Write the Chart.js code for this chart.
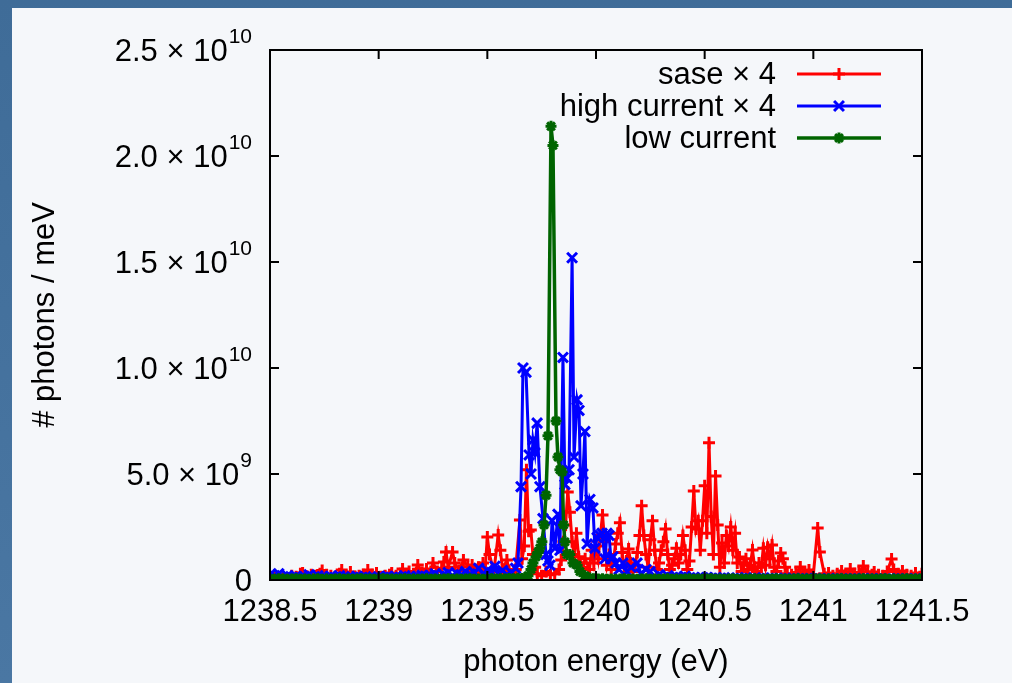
<!DOCTYPE html>
<html>
<head>
<meta charset="utf-8">
<script src="https://cdn.jsdelivr.net/npm/chart.js@4.4.0/dist/chart.umd.min.js"></script>
<style>
html, body { margin: 0; padding: 0; }
body { width: 1012px; height: 683px; position: relative; overflow: hidden; background: linear-gradient(180deg, #3f6c98, #4a77a3); }
#panel { position: absolute; left: 12px; top: 8px; right: 0; bottom: 0; background: #f5f7fa; }
#wrap { position: absolute; left: 0; top: 0; width: 1012px; height: 683px; }
</style>
</head>
<body>
<div id="panel"></div>
<div id="wrap"><canvas id="spectrum" width="1012" height="683"></canvas></div>
<script>
// values in units of 1e9 photons / meV
const sase = [
  [1238.50,0.10],[1238.52,0.12],[1238.54,0.08],[1238.56,0.15],[1238.58,0.10],[1238.60,0.20],[1238.62,0.15],[1238.64,0.30],
  [1238.65,0.33],[1238.67,0.18],[1238.69,0.25],[1238.71,0.20],[1238.73,0.30],[1238.74,0.45],[1238.76,0.25],[1238.78,0.20],
  [1238.80,0.15],[1238.82,0.30],[1238.83,0.47],[1238.85,0.20],[1238.87,0.38],[1238.89,0.15],[1238.91,0.20],[1238.93,0.25],
  [1238.95,0.47],[1238.97,0.25],[1238.99,0.33],[1239.01,0.15],[1239.03,0.20],[1239.05,0.25],[1239.06,0.33],[1239.08,0.20],
  [1239.10,0.30],[1239.11,0.52],[1239.12,0.25],[1239.14,0.40],[1239.16,0.30],[1239.18,0.71],[1239.20,0.35],[1239.22,0.52],
  [1239.24,0.40],[1239.25,0.80],[1239.27,0.40],[1239.29,0.55],[1239.30,0.85],[1239.31,1.32],[1239.32,0.60],[1239.34,1.32],
  [1239.35,0.80],[1239.37,0.45],[1239.39,0.94],[1239.41,0.61],[1239.42,0.40],[1239.43,0.71],[1239.45,0.35],[1239.46,0.60],
  [1239.48,0.80],[1239.49,0.50],[1239.50,2.03],[1239.51,1.20],[1239.53,0.40],[1239.55,2.12],[1239.56,1.40],[1239.57,0.50],
  [1239.59,0.94],[1239.60,0.45],[1239.62,0.30],[1239.63,0.50],[1239.65,2.83],[1239.66,1.00],[1239.67,1.60],[1239.68,5.20],
  [1239.69,2.30],[1239.70,2.36],[1239.71,1.20],[1239.72,0.60],[1239.73,0.30],[1239.75,0.20],[1239.77,0.40],[1239.79,0.25],
  [1239.81,0.30],[1239.83,0.50],[1239.84,0.94],[1239.85,1.80],[1239.86,2.60],[1239.87,4.15],[1239.88,3.20],[1239.89,1.80],
  [1239.90,1.20],[1239.91,2.20],[1239.92,1.10],[1239.94,0.60],[1239.95,1.00],[1239.97,0.50],[1239.98,1.40],[1239.99,0.80],
  [1240.00,1.60],[1240.01,1.00],[1240.02,2.10],[1240.03,3.07],[1240.04,1.80],[1240.05,0.70],[1240.06,1.20],[1240.07,0.50],
  [1240.08,0.90],[1240.09,1.70],[1240.10,2.20],[1240.11,2.70],[1240.12,1.30],[1240.13,0.60],[1240.14,0.90],[1240.15,1.46],
  [1240.16,0.80],[1240.17,0.40],[1240.18,0.70],[1240.19,1.30],[1240.20,2.10],[1240.21,3.50],[1240.22,2.10],[1240.23,1.20],
  [1240.24,0.60],[1240.25,1.90],[1240.26,2.80],[1240.27,1.40],[1240.28,0.50],[1240.29,0.80],[1240.30,1.40],[1240.31,1.80],
  [1240.32,2.40],[1240.33,1.20],[1240.34,0.50],[1240.35,0.70],[1240.36,1.00],[1240.37,1.50],[1240.38,0.80],[1240.39,1.20],
  [1240.40,2.10],[1240.41,1.40],[1240.42,0.50],[1240.43,0.90],[1240.44,2.50],[1240.45,4.20],[1240.46,2.40],[1240.47,2.80],
  [1240.48,1.40],[1240.49,2.80],[1240.50,4.44],[1240.51,2.20],[1240.52,6.47],[1240.53,3.00],[1240.54,1.20],[1240.55,4.90],
  [1240.56,2.60],[1240.57,0.60],[1240.58,1.75],[1240.59,0.80],[1240.60,2.10],[1240.61,1.60],[1240.62,2.50],[1240.63,1.40],
  [1240.64,2.20],[1240.65,0.80],[1240.66,1.09],[1240.67,0.40],[1240.68,0.80],[1240.69,1.00],[1240.70,0.50],[1240.71,0.70],
  [1240.72,1.42],[1240.73,0.60],[1240.74,0.40],[1240.75,0.80],[1240.76,0.60],[1240.77,1.50],[1240.78,0.70],[1240.79,1.55],
  [1240.80,1.00],[1240.81,1.65],[1240.82,0.60],[1240.83,0.40],[1240.84,0.90],[1240.85,1.27],[1240.86,1.00],[1240.87,0.60],
  [1240.88,0.30],[1240.90,0.25],[1240.92,0.35],[1240.94,0.61],[1240.96,0.35],[1240.98,0.47],[1241.00,0.25],[1241.02,2.45],
  [1241.03,1.32],[1241.05,0.30],[1241.07,0.33],[1241.09,0.20],[1241.11,0.30],[1241.13,0.42],[1241.15,0.25],[1241.17,0.52],
  [1241.19,0.30],[1241.21,0.35],[1241.23,0.66],[1241.25,0.38],[1241.27,0.25],[1241.28,0.38],[1241.30,0.25],[1241.32,0.20],
  [1241.34,0.40],[1241.36,0.99],[1241.37,0.50],[1241.39,0.30],[1241.41,0.42],[1241.43,0.25],[1241.45,0.20],[1241.47,0.33],
  [1241.49,0.15],[1241.50,0.30]
];

const highCurrent = [
  [1238.50,0.25],[1238.52,0.20],[1238.54,0.30],[1238.56,0.15],[1238.58,0.20],[1238.60,0.12],[1238.62,0.18],[1238.64,0.10],
  [1238.66,0.15],[1238.68,0.25],[1238.70,0.12],[1238.72,0.20],[1238.74,0.15],[1238.76,0.10],[1238.78,0.18],[1238.80,0.12],
  [1238.82,0.20],[1238.84,0.15],[1238.86,0.10],[1238.88,0.12],[1238.90,0.18],[1238.92,0.10],[1238.94,0.15],[1238.96,0.12],
  [1238.98,0.10],[1239.00,0.15],[1239.02,0.12],[1239.04,0.18],[1239.06,0.10],[1239.08,0.15],[1239.10,0.12],[1239.12,0.20],
  [1239.14,0.15],[1239.16,0.10],[1239.18,0.18],[1239.20,0.22],[1239.22,0.15],[1239.24,0.20],[1239.26,0.30],[1239.28,0.18],
  [1239.30,0.25],[1239.32,0.35],[1239.34,0.20],[1239.36,0.30],[1239.38,0.25],[1239.40,0.40],[1239.42,0.28],[1239.44,0.35],
  [1239.46,0.55],[1239.48,0.30],[1239.50,0.45],[1239.52,0.35],[1239.535,0.65],[1239.55,0.30],[1239.57,0.45],[1239.59,0.25],
  [1239.61,0.35],[1239.63,0.55],[1239.641,0.80],[1239.655,4.40],[1239.664,10.0],[1239.678,9.80],[1239.692,5.90],[1239.701,5.00],
  [1239.710,6.60],[1239.719,6.00],[1239.729,7.40],[1239.742,4.40],[1239.756,2.90],[1239.770,1.20],[1239.779,0.90],[1239.788,0.70],
  [1239.798,2.80],[1239.811,1.50],[1239.825,3.10],[1239.834,1.40],[1239.848,10.5],[1239.857,4.50],[1239.867,4.80],[1239.876,5.20],
  [1239.890,15.2],[1239.899,5.80],[1239.913,8.50],[1239.922,8.00],[1239.931,3.50],[1239.940,5.00],[1239.949,7.00],[1239.959,1.70],
  [1239.972,3.80],[1239.986,3.40],[1239.995,1.50],[1240.005,2.00],[1240.018,2.10],[1240.028,2.20],[1240.041,1.00],[1240.051,2.20],
  [1240.060,2.10],[1240.069,1.00],[1240.078,1.10],[1240.092,0.80],[1240.106,0.50],[1240.124,0.80],[1240.143,0.40],[1240.161,0.60],
  [1240.189,0.80],[1240.207,0.30],[1240.230,0.50],[1240.249,0.40],[1240.27,0.15],[1240.29,0.25],[1240.31,0.12],[1240.33,0.20],
  [1240.35,0.10],[1240.37,0.15],[1240.39,0.12],[1240.41,0.18],[1240.43,0.10],[1240.45,0.12],[1240.47,0.08],[1240.49,0.10],
  [1240.51,0.12],[1240.53,0.08],[1240.55,0.10],[1240.57,0.07],[1240.59,0.10],[1240.61,0.08],[1240.63,0.06],[1240.65,0.09],
  [1240.67,0.07],[1240.69,0.10],[1240.71,0.06],[1240.73,0.08],[1240.75,0.07],[1240.77,0.09],[1240.79,0.06],[1240.81,0.08],
  [1240.83,0.07],[1240.85,0.06],[1240.87,0.08],[1240.89,0.06],[1240.91,0.07],[1240.93,0.05],[1240.95,0.07],[1240.97,0.06],
  [1240.99,0.05],[1241.01,0.07],[1241.03,0.06],[1241.05,0.05],[1241.07,0.06],[1241.09,0.05],[1241.11,0.07],[1241.13,0.05],
  [1241.15,0.06],[1241.17,0.05],[1241.19,0.06],[1241.21,0.05],[1241.23,0.07],[1241.25,0.05],[1241.27,0.06],[1241.29,0.05],
  [1241.31,0.06],[1241.33,0.05],[1241.35,0.06],[1241.37,0.05],[1241.39,0.06],[1241.41,0.05],[1241.43,0.06],[1241.45,0.05],
  [1241.47,0.06],[1241.49,0.05]
];

const lowCurrent = [
  [1238.50,0.05],[1238.52,0.04],[1238.54,0.06],[1238.56,0.05],[1238.58,0.04],[1238.60,0.05],[1238.62,0.06],[1238.64,0.04],
  [1238.66,0.05],[1238.68,0.04],[1238.70,0.05],[1238.72,0.06],[1238.74,0.04],[1238.76,0.05],[1238.78,0.04],[1238.80,0.05],
  [1238.82,0.06],[1238.84,0.04],[1238.86,0.05],[1238.88,0.04],[1238.90,0.05],[1238.92,0.06],[1238.94,0.04],[1238.96,0.05],
  [1238.98,0.04],[1239.00,0.05],[1239.02,0.06],[1239.04,0.04],[1239.06,0.05],[1239.08,0.04],[1239.10,0.05],[1239.12,0.06],
  [1239.14,0.04],[1239.16,0.05],[1239.18,0.04],[1239.20,0.05],[1239.22,0.06],[1239.24,0.04],[1239.26,0.05],[1239.28,0.04],
  [1239.30,0.05],[1239.32,0.06],[1239.34,0.04],[1239.36,0.05],[1239.38,0.04],[1239.40,0.05],[1239.42,0.06],[1239.44,0.04],
  [1239.46,0.05],[1239.48,0.04],[1239.50,0.05],[1239.52,0.06],[1239.54,0.05],[1239.56,0.06],[1239.58,0.05],[1239.60,0.07],
  [1239.62,0.06],[1239.64,0.08],[1239.66,0.07],[1239.673,0.10],[1239.687,0.20],[1239.701,0.50],[1239.710,0.80],[1239.724,1.10],
  [1239.733,1.30],[1239.742,1.50],[1239.751,1.80],[1239.761,2.60],[1239.770,4.00],[1239.779,6.80],[1239.793,21.4],[1239.802,20.5],
  [1239.816,7.50],[1239.825,5.80],[1239.834,5.20],[1239.844,5.10],[1239.851,2.60],[1239.857,1.80],[1239.867,1.20],[1239.880,1.20],
  [1239.894,0.80],[1239.913,0.70],[1239.926,0.40],[1239.949,0.20],[1239.972,0.10],[1239.99,0.06],[1240.01,0.05],[1240.03,0.06],
  [1240.05,0.04],[1240.07,0.05],[1240.09,0.04],[1240.11,0.05],[1240.13,0.06],[1240.15,0.04],[1240.17,0.05],[1240.19,0.04],
  [1240.21,0.05],[1240.23,0.06],[1240.25,0.04],[1240.27,0.05],[1240.29,0.04],[1240.31,0.05],[1240.33,0.06],[1240.35,0.04],
  [1240.37,0.05],[1240.39,0.04],[1240.41,0.05],[1240.43,0.06],[1240.45,0.04],[1240.47,0.05],[1240.49,0.04],[1240.51,0.05],
  [1240.53,0.06],[1240.55,0.04],[1240.57,0.05],[1240.59,0.04],[1240.61,0.05],[1240.63,0.06],[1240.65,0.04],[1240.67,0.05],
  [1240.69,0.04],[1240.71,0.05],[1240.73,0.06],[1240.75,0.04],[1240.77,0.05],[1240.79,0.04],[1240.81,0.05],[1240.83,0.06],
  [1240.85,0.04],[1240.87,0.05],[1240.89,0.04],[1240.91,0.05],[1240.93,0.06],[1240.95,0.04],[1240.97,0.05],[1240.99,0.04],
  [1241.01,0.05],[1241.03,0.06],[1241.05,0.04],[1241.07,0.05],[1241.09,0.04],[1241.11,0.05],[1241.13,0.06],[1241.15,0.04],
  [1241.17,0.05],[1241.19,0.04],[1241.21,0.05],[1241.23,0.06],[1241.25,0.04],[1241.27,0.05],[1241.29,0.04],[1241.31,0.05],
  [1241.33,0.06],[1241.35,0.04],[1241.37,0.05],[1241.39,0.04],[1241.41,0.05],[1241.43,0.06],[1241.45,0.04],[1241.47,0.05],
  [1241.49,0.04],[1241.50,0.05]
];

const yTicks = [0, 5, 10, 15, 20, 25];
const yTickLabels = [["0", ""], ["5.0 \u00d7 10", "9"], ["1.0 \u00d7 10", "10"], ["1.5 \u00d7 10", "10"], ["2.0 \u00d7 10", "10"], ["2.5 \u00d7 10", "10"]];
const seriesNames = ["sase \u00d7 4", "high current \u00d7 4", "low current"];

const FONT = '"Liberation Sans", Arial, sans-serif';
const toXY = arr => arr.map(p => ({x: p[0], y: p[1]}));

// gnuplot style border, inward ticks, sup labels and right-aligned key
const gnuFrame = {
    id: "gnuFrame",
    afterDatasetsDraw(chart) {
        const {ctx, chartArea: a, scales: {x, y}} = chart;
        ctx.save();
        ctx.strokeStyle = "#000";
        ctx.lineWidth = 2;
        ctx.strokeRect(a.left, a.top, a.right - a.left, a.bottom - a.top);
        ctx.beginPath();
        x.ticks.forEach(t => {
            const px = x.getPixelForValue(t.value);
            ctx.moveTo(px, a.bottom); ctx.lineTo(px, a.bottom - 9);
            ctx.moveTo(px, a.top); ctx.lineTo(px, a.top + 9);
        });
        yTicks.forEach(v => {
            const py = y.getPixelForValue(v);
            ctx.moveTo(a.left, py); ctx.lineTo(a.left + 9, py);
            ctx.moveTo(a.right, py); ctx.lineTo(a.right - 9, py);
        });
        ctx.stroke();

        // y tick labels with superscript exponents
        ctx.fillStyle = "#000";
        ctx.textBaseline = "middle";
        yTicks.forEach((v, i) => {
            const py = y.getPixelForValue(v) + 2;
            const [main, sup] = yTickLabels[i];
            const right = 252;
            ctx.font = "21px " + FONT;
            const supW = ctx.measureText(sup).width;
            ctx.textAlign = "right";
            ctx.fillText(sup, right, py - 15);
            ctx.font = "31px " + FONT;
            ctx.fillText(main, right - supW - (sup ? 1 : 0), py);
        });

        // key
        const rows = [74, 106, 138];
        chart.data.datasets.forEach((ds, i) => {
            const ry = rows[i];
            ctx.font = "31px " + FONT;
            ctx.textAlign = "right";
            ctx.fillStyle = "#000";
            ctx.fillText(seriesNames[i], 776, ry + 1);
            ctx.strokeStyle = ds.borderColor;
            ctx.fillStyle = ds.borderColor;
            ctx.lineWidth = ds.borderWidth;
            ctx.beginPath();
            ctx.moveTo(797, ry); ctx.lineTo(881, ry);
            ctx.stroke();
            ctx.lineWidth = ds.pointBorderWidth;
            Chart.helpers.drawPoint(ctx, {pointStyle: ds.pointStyle, radius: ds.pointRadius, rotation: 0, borderWidth: ds.pointBorderWidth}, 839, ry);
        });
        ctx.restore();
    }
};

const ctx = document.getElementById("spectrum").getContext("2d");

new Chart(ctx, {
    type: "line",
    data: {
        datasets: [{
            label: seriesNames[0],
            data: toXY(sase),
            borderColor: "#ff0000",
            backgroundColor: "#ff0000",
            borderWidth: 3,
            pointStyle: "cross",
            pointRadius: 6,
            pointBorderWidth: 3,
            order: 2
        }, {
            label: seriesNames[1],
            data: toXY(highCurrent),
            borderColor: "#0000ff",
            backgroundColor: "#0000ff",
            borderWidth: 3,
            pointStyle: "crossRot",
            pointRadius: 7,
            pointBorderWidth: 3,
            order: 1
        }, {
            label: seriesNames[2],
            data: toXY(lowCurrent),
            borderColor: "#006400",
            backgroundColor: "#006400",
            borderWidth: 3.5,
            pointStyle: "star",
            pointRadius: 5.5,
            pointBorderWidth: 3,
            order: 0
        }]
    },
    options: {
        responsive: false,
        animation: false,
        events: [],
        layout: { padding: { left: 0, right: 90, top: 50, bottom: 0 } },
        scales: {
            x: {
                type: "linear",
                min: 1238.5,
                max: 1241.5,
                grid: { display: false, drawTicks: false },
                border: { display: false },
                ticks: {
                    stepSize: 0.5,
                    autoSkip: false,
                    maxRotation: 0,
                    padding: 14,
                    color: "#000",
                    font: { family: FONT, size: 31 },
                    callback: v => String(v)
                },
                title: {
                    display: true,
                    text: "photon energy (eV)",
                    color: "#000",
                    font: { family: FONT, size: 31 },
                    padding: { top: 0, bottom: 2 }
                },
                afterFit(scale) { scale.height = 103; }
            },
            y: {
                min: 0,
                max: 25,
                grid: { display: false, drawTicks: false },
                border: { display: false },
                ticks: { display: false, stepSize: 5 },
                title: {
                    display: true,
                    text: "# photons / meV",
                    color: "#000",
                    font: { family: FONT, size: 31 },
                    padding: { top: 27, bottom: 0 }
                },
                afterFit(scale) { scale.width = 270; }
            }
        },
        plugins: {
            legend: { display: false },
            tooltip: { enabled: false }
        }
    },
    plugins: [gnuFrame]
});
</script>
</body>
</html>
